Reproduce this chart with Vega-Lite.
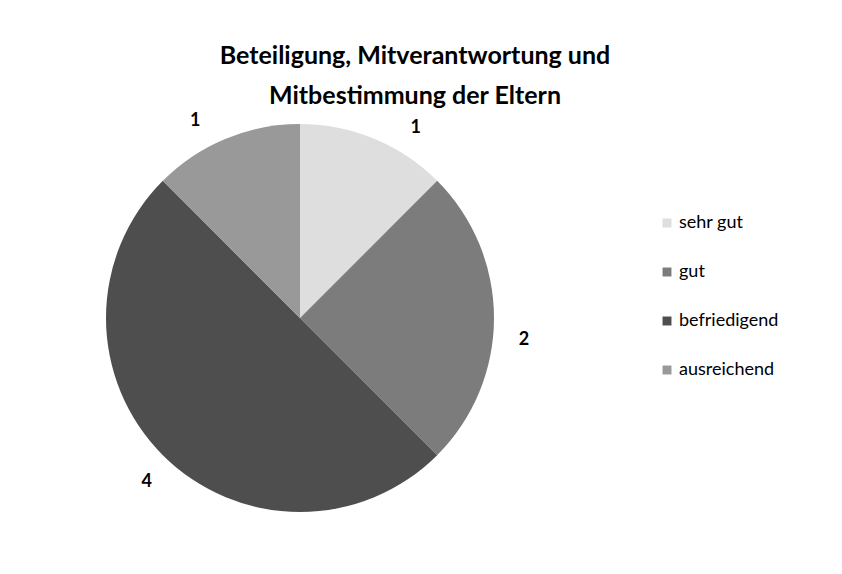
{
  "$schema": "https://vega.github.io/schema/vega-lite/v6.json",
  "width": 600,
  "height": 416,
  "autosize": "none",
  "padding": {"top": 110, "left": 0, "right": 242, "bottom": 48},
  "background": "white",
  "title": {
    "text": ["Beteiligung, Mitverantwortung und", "Mitbestimmung der Eltern"],
    "font": "Lato",
    "fontSize": 25,
    "fontWeight": "bold",
    "color": "black",
    "anchor": "middle",
    "frame": "group",
    "dx": 115,
    "offset": -1,
    "lineHeight": 40
  },
  "data": {
    "values": [
      {"note": "sehr gut", "anzahl": 1, "ord": 1},
      {"note": "gut", "anzahl": 2, "ord": 2},
      {"note": "befriedigend", "anzahl": 4, "ord": 3},
      {"note": "ausreichend", "anzahl": 1, "ord": 4}
    ]
  },
  "encoding": {
    "theta": {"field": "anzahl", "type": "quantitative", "stack": true},
    "order": {"field": "ord", "type": "quantitative"}
  },
  "layer": [
    {
      "mark": {"type": "arc", "outerRadius": 194},
      "encoding": {
        "color": {
          "field": "note",
          "type": "nominal",
          "scale": {
            "domain": ["sehr gut", "gut", "befriedigend", "ausreichend"],
            "range": ["#dedede", "#7c7c7c", "#4e4e4e", "#999999"]
          },
          "legend": {
            "title": null,
            "orient": "none",
            "legendX": 658,
            "legendY": 104,
            "symbolType": "square",
            "symbolSize": 80,
            "labelFont": "Lato",
            "labelFontSize": 18,
            "labelColor": "black",
            "labelOffset": 3,
            "rowPadding": 31
          }
        }
      }
    },
    {
      "mark": {"type": "text", "radius": 224, "dx": 30, "dy": 17, "font": "Lato", "fontSize": 18, "fontWeight": "bold", "color": "black"},
      "encoding": {"text": {"condition": {"test": "datum.note == 'sehr gut'", "field": "anzahl", "type": "quantitative"}, "value": ""}}
    },
    {
      "mark": {"type": "text", "radius": 224, "dy": 22, "font": "Lato", "fontSize": 18, "fontWeight": "bold", "color": "black"},
      "encoding": {"text": {"condition": {"test": "datum.note == 'gut'", "field": "anzahl", "type": "quantitative"}, "value": ""}}
    },
    {
      "mark": {"type": "text", "radius": 224, "dx": 5, "dy": 6, "font": "Lato", "fontSize": 18, "fontWeight": "bold", "color": "black"},
      "encoding": {"text": {"condition": {"test": "datum.note == 'befriedigend'", "field": "anzahl", "type": "quantitative"}, "value": ""}}
    },
    {
      "mark": {"type": "text", "radius": 224, "dx": -19, "dy": 10, "font": "Lato", "fontSize": 18, "fontWeight": "bold", "color": "black"},
      "encoding": {"text": {"condition": {"test": "datum.note == 'ausreichend'", "field": "anzahl", "type": "quantitative"}, "value": ""}}
    }
  ]
}
